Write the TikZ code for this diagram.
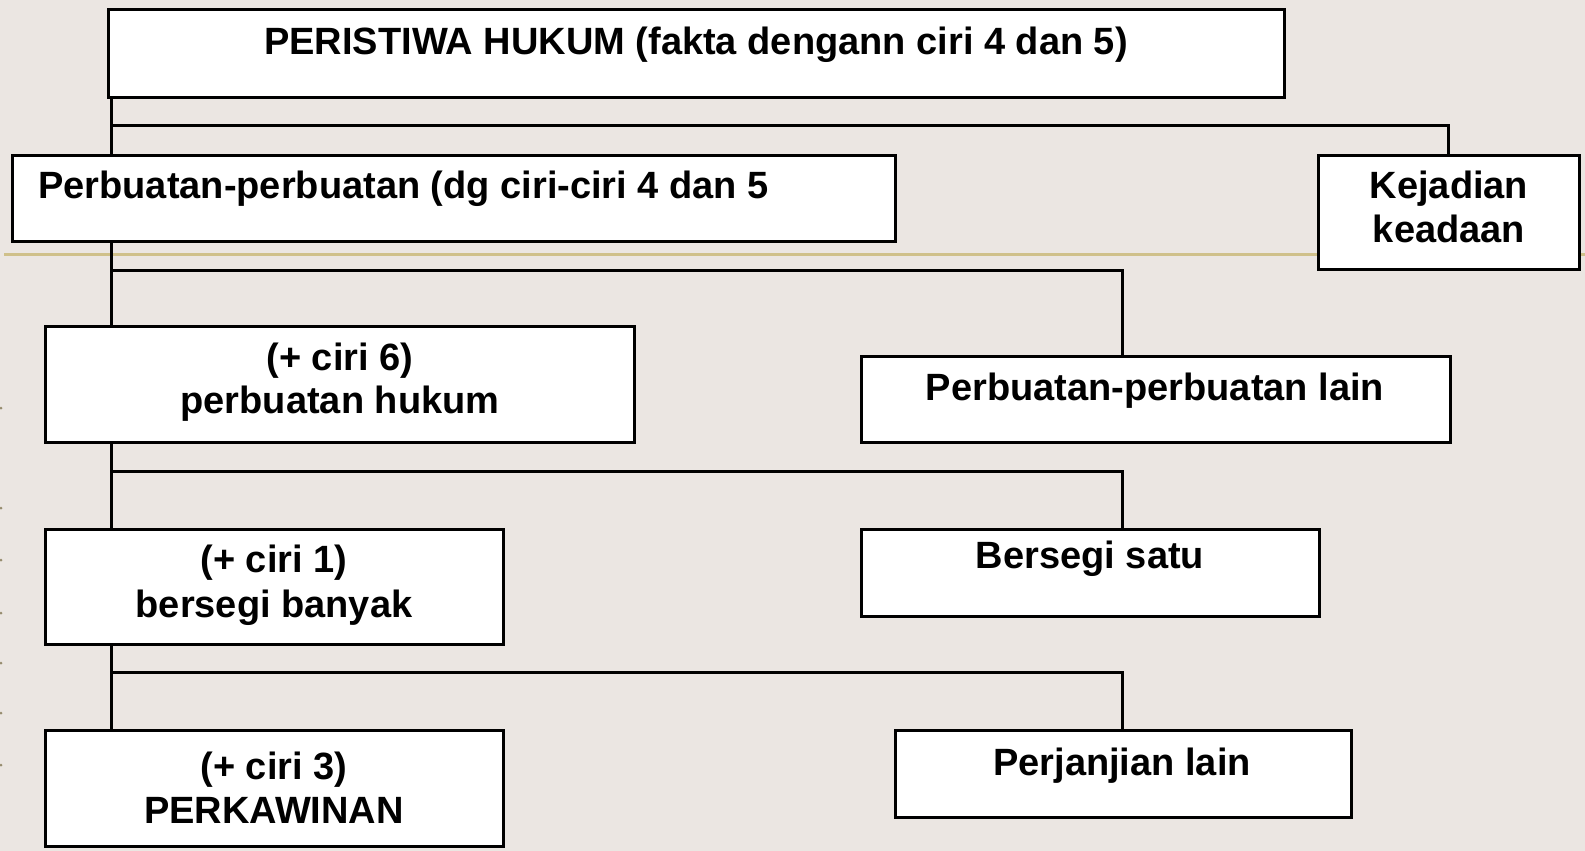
\documentclass[tikz,border=0pt]{standalone}
\usepackage{fontspec}
\setmainfont{Liberation Sans}
\definecolor{hukumbg}{RGB}{235,230,226}
\definecolor{hukumolive}{RGB}{207,192,138}
\definecolor{hukumdot}{RGB}{150,140,110}
\usepackage{tikz}
\usetikzlibrary{calc}

\begin{document}
\begin{tikzpicture}[x=1pt,y=-1pt,
      box/.style={rectangle,draw=black,line width=3pt,fill=white,inner sep=0pt},
      lbl/.style={font=\fontsize{38}{44}\selectfont\bfseries,anchor=base,inner sep=0pt},
      conn/.style={draw=black,line width=3pt}]

      % latar
      \fill[hukumbg] (0,0) rectangle (1585,851);
      \useasboundingbox (0,0) rectangle (1585,851);
      \draw[hukumolive,line width=3pt] (4,254) -- (1585,254);
      \foreach \y in {408,508,560,613,663,713,765}{
        \fill[hukumdot] (1,\y) circle (1.5);
      }

      % kotak
      \node[box,minimum width=1176,minimum height=87] (peristiwa) at (696,53.5) {};
      \node[box,minimum width=883,minimum height=86]  (perbuatan) at (453.5,198) {};
      \node[box,minimum width=261,minimum height=114] (kejadian)  at (1448.5,212) {};
      \node[box,minimum width=589,minimum height=116] (hukum)     at (339.5,384) {};
      \node[box,minimum width=589,minimum height=86]  (lain)      at (1155.5,399) {};
      \node[box,minimum width=458,minimum height=115] (banyak)    at (274,586.5) {};
      \node[box,minimum width=458,minimum height=87]  (satu)      at (1090,572.5) {};
      \node[box,minimum width=458,minimum height=116] (kawin)     at (274,788) {};
      \node[box,minimum width=456,minimum height=87]  (janji)     at (1123,773.5) {};

      % teks
      \node[lbl] (peristiwaT) at (696,55) {PERISTIWA HUKUM (fakta dengann ciri 4 dan 5)};
      \node[lbl,anchor=base west] (perbuatanT) at (38,198) {Perbuatan-perbuatan (dg ciri-ciri 4 dan 5};
      \node[lbl] (kejadianA) at (1449,198) {Kejadian};
      \node[lbl] (kejadianB) at (1449,242) {keadaan};
      \node[lbl] (hukumA) at (340,370) {(+ ciri 6)};
      \node[lbl] (hukumB) at (340,413) {perbuatan hukum};
      \node[lbl] (lainT) at (1155,400) {Perbuatan-perbuatan lain};
      \node[lbl] (banyakA) at (274,572) {(+ ciri 1)};
      \node[lbl] (banyakB) at (274,617) {bersegi banyak};
      \node[lbl] (satuT) at (1090,568) {Bersegi satu};
      \node[lbl] (kawinA) at (274,779) {(+ ciri 3)};
      \node[lbl] (kawinB) at (274,823) {PERKAWINAN};
      \node[lbl] (janjiT) at (1122,775) {Perjanjian lain};

      % cabang
      \coordinate (j1) at (111,125);
      \coordinate (j2) at (111,270);
      \coordinate (j3) at (111,471);
      \coordinate (j4) at (111,672);
      \coordinate (k2) at (1122,270);
      \coordinate (k3) at (1122,471);
      \coordinate (k4) at (1122,672);

      \draw[conn] (peristiwa.south -| j1) -- (perbuatan.north -| j1);
      \draw[conn] (j1) -| (kejadian.north);
      \draw[conn] (perbuatan.south -| j2) -- (hukum.north -| j2);
      \draw[conn] (j2) -- (k2) -- (k2 |- lain.north);
      \draw[conn] (hukum.south -| j3) -- (banyak.north -| j3);
      \draw[conn] (j3) -- (k3) -- (k3 |- satu.north);
      \draw[conn] (banyak.south -| j4) -- (kawin.north -| j4);
      \draw[conn] (j4) -- (k4) -- (k4 |- janji.north);
    \end{tikzpicture}
\end{document}
